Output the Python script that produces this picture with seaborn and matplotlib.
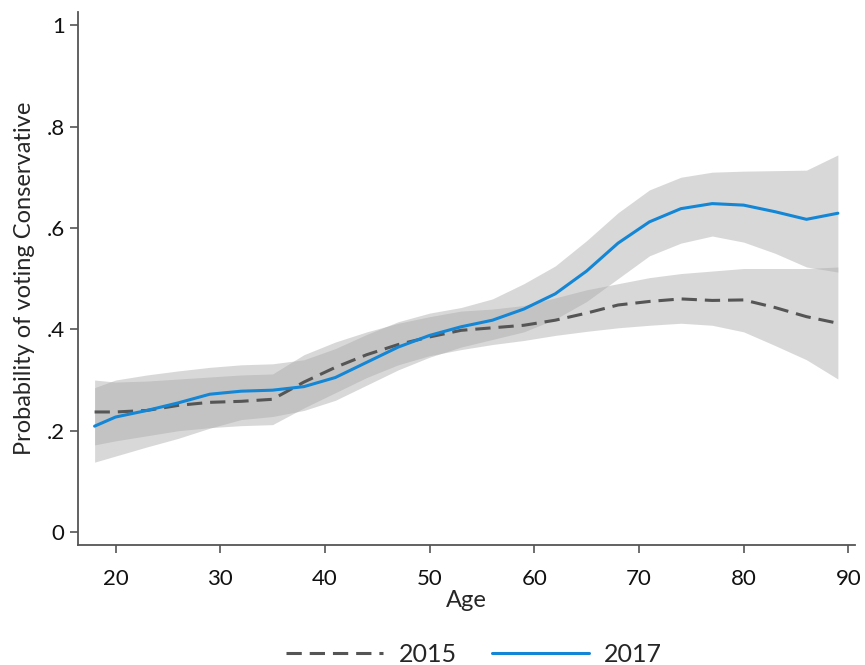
import numpy as np
import pandas as pd
import matplotlib
matplotlib.use("Agg")
import matplotlib.pyplot as plt
from matplotlib.lines import Line2D
import seaborn as sns

## data ##
age = [18, 20, 23, 26, 29, 32, 35, 38, 41, 44, 47, 50, 53,
       56, 59, 62, 65, 68, 71, 74, 77, 80, 83, 86, 89]

p2015 = [0.237, 0.237, 0.240, 0.250, 0.256, 0.258, 0.262, 0.296, 0.325,
         0.350, 0.370, 0.385, 0.398, 0.403, 0.408, 0.418, 0.432, 0.448,
         0.455, 0.460, 0.457, 0.458, 0.443, 0.425, 0.412]
lo2015 = [0.172, 0.180, 0.190, 0.200, 0.206, 0.210, 0.212, 0.245, 0.275,
          0.305, 0.330, 0.348, 0.360, 0.370, 0.378, 0.388, 0.396, 0.403,
          0.408, 0.412, 0.408, 0.395, 0.368, 0.340, 0.302]
hi2015 = [0.300, 0.296, 0.298, 0.302, 0.306, 0.310, 0.312, 0.350, 0.375,
          0.395, 0.412, 0.425, 0.436, 0.440, 0.447, 0.462, 0.478, 0.490,
          0.502, 0.510, 0.515, 0.520, 0.520, 0.520, 0.523]

p2017 = [0.209, 0.227, 0.240, 0.255, 0.272, 0.278, 0.280, 0.287, 0.305,
         0.335, 0.365, 0.388, 0.405, 0.418, 0.440, 0.470, 0.515, 0.570,
         0.612, 0.638, 0.648, 0.645, 0.632, 0.617, 0.629]
lo2017 = [0.138, 0.150, 0.168, 0.185, 0.205, 0.222, 0.228, 0.240, 0.260,
          0.290, 0.320, 0.345, 0.365, 0.380, 0.395, 0.420, 0.455, 0.500,
          0.545, 0.570, 0.584, 0.572, 0.550, 0.523, 0.513]
hi2017 = [0.285, 0.300, 0.310, 0.318, 0.325, 0.330, 0.332, 0.340, 0.362,
          0.390, 0.415, 0.432, 0.443, 0.460, 0.490, 0.525, 0.575, 0.630,
          0.675, 0.700, 0.710, 0.712, 0.713, 0.714, 0.744]

xticks = [20, 30, 40, 50, 60, 70, 80, 90]
yticks = [0, 0.2, 0.4, 0.6, 0.8, 1.0]
ytick_labels = ['0', '.2', '.4', '.6', '.8', '1']

sns.set_style("ticks")
plt.rcParams['font.family'] = ['Lato', 'DejaVu Sans']

df = pd.DataFrame({
    'Age': age * 2,
    'prob': p2015 + p2017,
    'year': ['2015'] * len(age) + ['2017'] * len(age),
})

grey_line = '#555555'
blue_line = '#1486d6'
dash = (5, 2.6)

fig = plt.figure(figsize=(8.65, 6.65), dpi=100)
ax = fig.add_axes([0.090, 0.180, 0.898, 0.802])

## confidence bands
ax.fill_between(age, lo2015, hi2015, color='#aaaaaa', alpha=0.45, lw=0)
ax.fill_between(age, lo2017, hi2017, color='#aaaaaa', alpha=0.45, lw=0)

sns.lineplot(data=df, x='Age', y='prob', hue='year', style='year',
             palette={'2015': grey_line, '2017': blue_line},
             dashes={'2015': dash, '2017': ''},
             linewidth=2.2, ax=ax, legend=False)

ax.set_xlim(16.4, 90.6)
ax.set_ylim(-0.026, 1.026)
ax.set_xticks(xticks)
ax.set_yticks(yticks)
ax.set_yticklabels(ytick_labels)
ax.tick_params(axis='both', labelsize=16, length=6, width=1.2, color=grey_line, colors='#111111')
ax.tick_params(axis='x', pad=11)
ax.set_xlabel('Age', fontsize=17, labelpad=1)
ax.set_ylabel('Probability of voting Conservative', fontsize=17, labelpad=8)
sns.despine(ax=ax)
for s in ['left', 'bottom']:
    ax.spines[s].set_color(grey_line)
    ax.spines[s].set_linewidth(1.3)

handles = [Line2D([], [], color=grey_line, lw=2.2, dashes=dash),
           Line2D([], [], color=blue_line, lw=2.2)]
ax.legend(handles, ['2015', '2017'], loc='center', bbox_to_anchor=(0.51, -0.205),
          ncol=2, frameon=False, fontsize=18, handlelength=3.9,
          handletextpad=0.6, columnspacing=1.4)

plt.savefig('out.png', dpi=100)
